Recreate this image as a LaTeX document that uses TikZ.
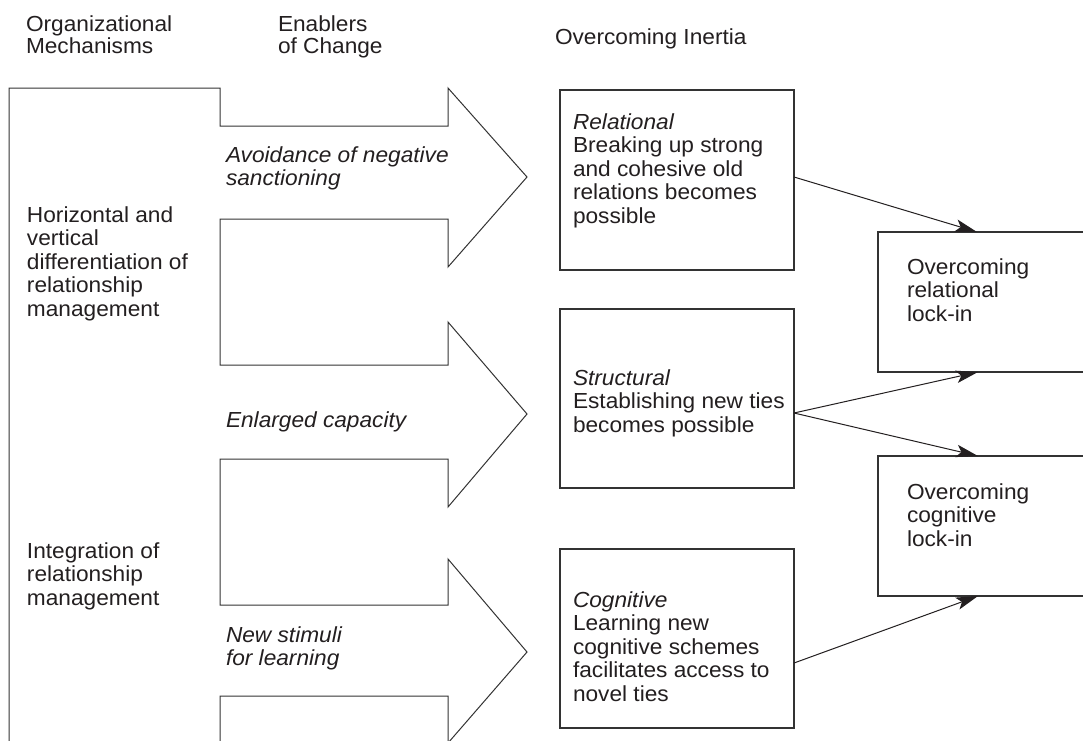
\documentclass[tikz,border=0pt]{standalone}
\usepackage{fontspec}
\setmainfont{Liberation Sans}[FakeStretch=1.04]
\usetikzlibrary{arrows.meta}
\definecolor{ink}{HTML}{231F20}
\definecolor{edgegray}{HTML}{333333}
\newcommand\mytopstrut{\rule{0pt}{16pt}}
\begin{document}
\begin{tikzpicture}[x=1pt,y=-1pt,
  every node/.style={inner sep=0pt, outer sep=0pt},
  txt/.style={anchor=north west, align=left, text=ink, font=\fontsize{21.8}{23.6}\selectfont},
  txti/.style={txt, font=\fontsize{21.8}{23.6}\selectfont\itshape},
  head/.style={txt, font=\fontsize{21.8}{22}\selectfont},
  box/.style={draw=edgegray, line width=1.1pt, rectangle, anchor=north west},
  outline/.style={draw=edgegray, line width=1pt, line join=miter},
  link/.style={draw=ink, line width=1pt, -{Stealth[length=22pt,width=12.5pt,inset=5pt]}}]
\useasboundingbox[fill=white] (0,0) rectangle (1083,740);

% headers
\node[head] (h1) at (26,15) {\mytopstrut Organizational\\Mechanisms};
\node[head] (h2) at (278,15) {\mytopstrut Enablers\\of Change};
\node[head] (h3) at (555,28) {\mytopstrut Overcoming Inertia};

% left outline with three arrows
\draw[outline] (9,760) -- (9,88) -- (220,88) -- (220,126) -- (448,126) -- (448,88)
  -- (527,177) -- (448,267) -- (448,219) -- (220,219) -- (220,365) -- (448,365)
  -- (448,322) -- (527,414) -- (448,507) -- (448,459) -- (220,459) -- (220,605)
  -- (448,605) -- (448,559) -- (527,652) -- (448,743) -- (448,696) -- (220,696)
  -- (220,760);

\node[txt] (m1) at (27,206) {\mytopstrut Horizontal and\\vertical\\differentiation of\\relationship\\management};
\node[txt] (m2) at (27,542) {\mytopstrut Integration of\\relationship\\management};

\node[txti] (e1) at (226,146) {\mytopstrut Avoidance of negative\\sanctioning};
\node[txti] (e2) at (226,411) {\mytopstrut Enlarged capacity};
\node[txti] (e3) at (226,626) {\mytopstrut New stimuli\\for learning};

% middle boxes
\node[box, minimum width=234, minimum height=180] (rel) at (560,90) {};
\node[box, minimum width=234, minimum height=179] (str) at (560,309) {};
\node[box, minimum width=234, minimum height=179] (cog) at (560,549) {};

\node[txt] (t1) at (573,113) {\mytopstrut\textit{Relational}\\Breaking up strong\\and cohesive old\\relations becomes\\possible};
\node[txt] (t2) at (573,369) {\mytopstrut\textit{Structural}\\Establishing new ties\\becomes possible};
\node[txt] (t3) at (573,591) {\mytopstrut\textit{Cognitive}\\Learning new\\cognitive schemes\\facilitates access to\\novel ties};

% right boxes (cut by the picture's right edge)
\node[box, minimum width=240, minimum height=140] (rlock) at (878,232) {};
\node[box, minimum width=240, minimum height=140] (clock) at (878,456) {};

\node[txt] (t4) at (907,258) {\mytopstrut Overcoming\\relational\\lock-in};
\node[txt] (t5) at (907,483) {\mytopstrut Overcoming\\cognitive\\lock-in};

% connectors
\draw[link] ([yshift=3pt]rel.east) -- ([xshift=99pt]rlock.north west);
\draw[link] ([yshift=-14.5pt]str.east) -- ([xshift=100pt]rlock.south west);
\draw[link] ([yshift=-14.5pt]str.east) -- ([xshift=100pt]clock.north west);
\draw[link] ([yshift=-24.5pt]cog.east) -- ([xshift=100pt]clock.south west);
\end{tikzpicture}
\end{document}
